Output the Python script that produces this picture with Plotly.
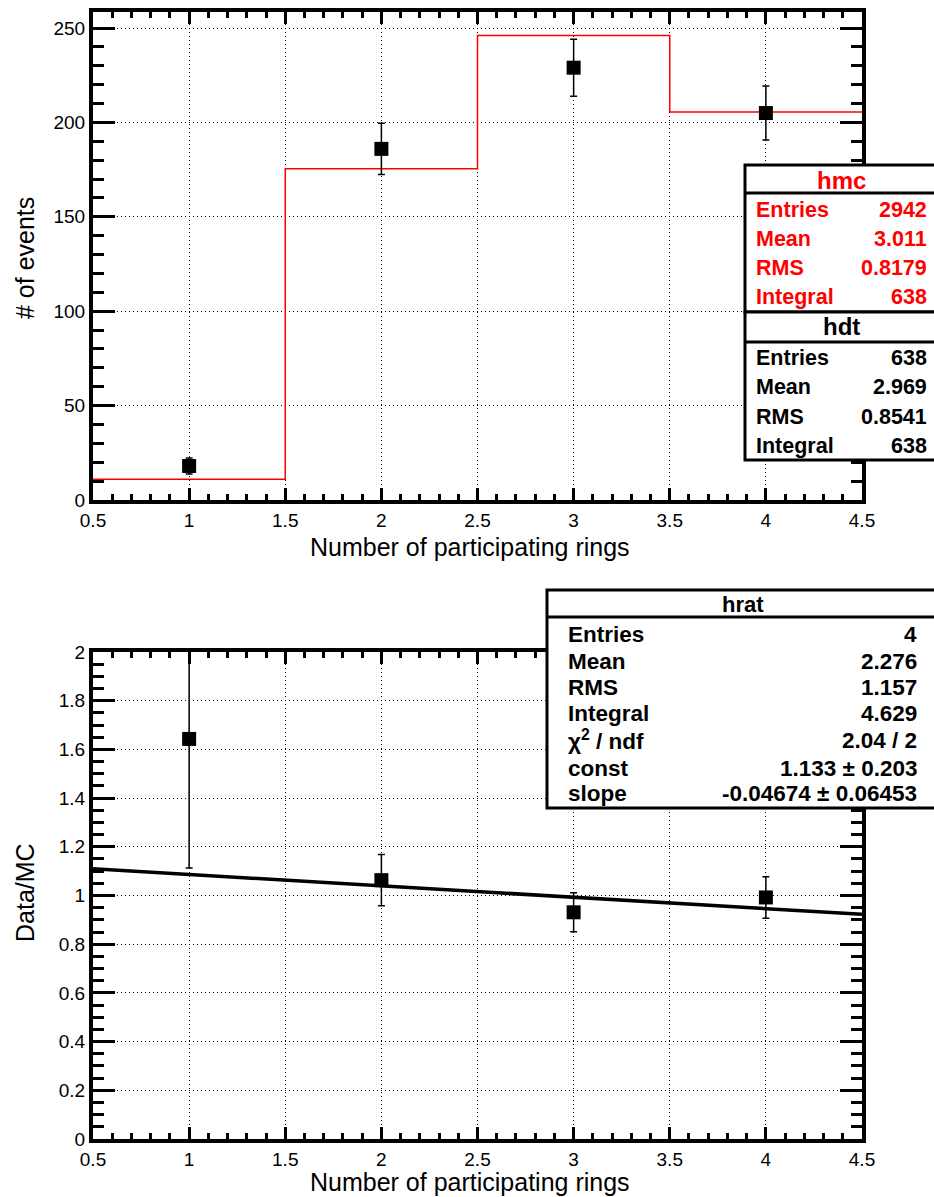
import plotly.graph_objects as go

# Histogram contents per number of participating rings
rings = [1, 2, 3, 4]
bin_edges = [0.5, 1.5, 2.5, 3.5, 4.5]
mc_counts = [11.0, 175.5, 246.0, 205.5]          # normalised MC (hmc)
data_counts = [18, 186, 229, 205]                # data (hdt)
data_errors = [4.2, 13.6, 15.1, 14.3]

# Data/MC ratio (hrat) with linear fit
ratio = [1.643, 1.063, 0.931, 0.992]
ratio_errors = [0.53, 0.105, 0.08, 0.085]
fit_const = 1.133
fit_slope = -0.04674

hmc_stats = [("Entries", "2942"), ("Mean", "3.011"), ("RMS", "0.8179"), ("Integral", "638")]
hdt_stats = [("Entries", "638"), ("Mean", "2.969"), ("RMS", "0.8541"), ("Integral", "638")]
hrat_stats = [("Entries", "4"), ("Mean", "2.276"), ("RMS", "1.157"), ("Integral", "4.629"),
              ("χ<sup>2</sup> / ndf", "2.04 / 2"), ("const", "1.133 ± 0.203"),
              ("slope", "-0.04674 ± 0.06453")]

W, H = 934, 1197
FONT = "Liberation Sans, Arial, Helvetica, sans-serif"


def px(x):
    return x / W


def py(y):
    return 1 - y / H


fig = go.Figure()

# MC histogram as a red step line
fig.add_trace(go.Scatter(
    x=bin_edges, y=mc_counts + [mc_counts[-1]], mode="lines",
    line=dict(color="red", width=1.5, shape="hv"),
    xaxis="x", yaxis="y", showlegend=False, hoverinfo="skip"))

# Data points
fig.add_trace(go.Scatter(
    x=rings, y=data_counts, mode="markers",
    marker=dict(symbol="square", size=14, color="black"),
    error_y=dict(type="data", array=data_errors, color="black", thickness=1.5, width=3.5),
    xaxis="x", yaxis="y", showlegend=False))

# Fit line in the ratio panel
fit_x = [bin_edges[0], bin_edges[-1]]
fit_y = [fit_const + fit_slope * v for v in fit_x]
fig.add_trace(go.Scatter(
    x=fit_x, y=fit_y, mode="lines", line=dict(color="black", width=3.5),
    xaxis="x2", yaxis="y2", showlegend=False))

# Ratio points
fig.add_trace(go.Scatter(
    x=rings, y=ratio, mode="markers",
    marker=dict(symbol="square", size=14, color="black"),
    error_y=dict(type="data", array=ratio_errors, color="black", thickness=1.5, width=3.5),
    xaxis="x2", yaxis="y2", showlegend=False, cliponaxis=True))

# Invisible traces so the top/right tick axes get drawn
for xa, ya, yv in (("x3", "y3", data_counts), ("x4", "y4", ratio)):
    fig.add_trace(go.Scatter(x=rings, y=yv, mode="markers", marker=dict(opacity=0),
                             xaxis=xa, yaxis=ya, showlegend=False, hoverinfo="skip"))

tickfont = dict(family=FONT, size=19, color="black")
XDOM = [px(93), px(862)]
TOP_DOM = [py(500), py(12)]
BOT_DOM = [py(1139), py(652)]


def xaxis_cfg(anchor, side="bottom", overlay=None, labels=True, grid=True):
    cfg = dict(
        domain=XDOM, anchor=anchor, range=[0.5, 4.5], side=side,
        tickmode="linear", tick0=0.5, dtick=0.5, ticks="inside", ticklen=12, tickwidth=3,
        tickcolor="black", showline=True, linecolor="black", linewidth=4, mirror=True,
        showgrid=grid, gridcolor="black", gridwidth=1, griddash="1px,3px", zeroline=False,
        minor=dict(dtick=0.1, ticks="inside", ticklen=6, tickwidth=3, tickcolor="black", showgrid=False),
        tickfont=tickfont, automargin=False, showticklabels=labels, fixedrange=True)
    if overlay:
        cfg["overlaying"] = overlay
    return cfg


def yaxis_cfg(anchor, dom, rng, dtick, mdtick, side="left", overlay=None, labels=True, grid=True):
    cfg = dict(
        domain=dom, anchor=anchor, range=rng, side=side,
        tickmode="linear", tick0=0, dtick=dtick, ticks="inside", ticklen=22, tickwidth=3,
        tickcolor="black", showline=True, linecolor="black", linewidth=4, mirror=True,
        showgrid=grid, gridcolor="black", gridwidth=1, griddash="1px,3px", zeroline=False,
        minor=dict(dtick=mdtick, ticks="inside", ticklen=11, tickwidth=3, tickcolor="black", showgrid=False),
        tickfont=tickfont, automargin=False, showticklabels=labels, fixedrange=True)
    if overlay:
        cfg["overlaying"] = overlay
    return cfg


shapes = []
annotations = []


def stat_box(x0, y0, ysep, y1, title, rows, row_ys, xl, xr, color, title_y, tsize, rsize):
    shapes.append(dict(type="rect", xref="paper", yref="paper", x0=px(x0), x1=px(W + 20),
                       y0=py(y1), y1=py(y0), fillcolor="white",
                       line=dict(color="black", width=3), layer="above"))
    shapes.append(dict(type="line", xref="paper", yref="paper", x0=px(x0), x1=px(W + 20),
                       y0=py(ysep), y1=py(ysep), line=dict(color="black", width=3), layer="above"))
    annotations.append(dict(xref="paper", yref="paper", x=px((x0 + W) / 2 + 2), y=py(title_y),
                            text=f"<b>{title}</b>", showarrow=False, xanchor="center", yanchor="middle",
                            font=dict(family=FONT, size=tsize, color=color)))
    for (lab, val), ry in zip(rows, row_ys):
        annotations.append(dict(xref="paper", yref="paper", x=px(xl), y=py(ry), text=f"<b>{lab}</b>",
                                showarrow=False, xanchor="left", yanchor="middle",
                                font=dict(family=FONT, size=rsize, color=color)))
        annotations.append(dict(xref="paper", yref="paper", x=px(xr), y=py(ry), text=f"<b>{val}</b>",
                                showarrow=False, xanchor="right", yanchor="middle",
                                font=dict(family=FONT, size=rsize, color=color)))


stat_box(745, 165, 193, 312, "hmc", hmc_stats, [210, 239, 268, 297], 754, 929, "red", 180, 24, 21.5)
stat_box(745, 312, 342, 460, "hdt", hdt_stats, [358, 387, 417, 446], 754, 929, "black", 327, 24, 21.5)
stat_box(547, 590, 617, 808, "hrat", hrat_stats, [634, 661, 687, 713, 740, 768, 793], 566, 919, "black",
         604, 22, 22.5)

# Axis titles
title_font = dict(family=FONT, size=25, color="black")
for ty in (547, 1182):
    annotations.append(dict(xref="paper", yref="paper", x=px(470), y=py(ty),
                            text="Number of participating rings", showarrow=False,
                            xanchor="center", yanchor="middle", font=title_font))
annotations.append(dict(xref="paper", yref="paper", x=px(25), y=py(258), text="# of events",
                        textangle=-90, showarrow=False, xanchor="center", yanchor="middle", font=title_font))
annotations.append(dict(xref="paper", yref="paper", x=px(25), y=py(893), text="Data/MC",
                        textangle=-90, showarrow=False, xanchor="center", yanchor="middle", font=title_font))

fig.update_layout(
    width=W, height=H, margin=dict(l=0, r=0, t=0, b=0),
    paper_bgcolor="white", plot_bgcolor="white",
    xaxis=xaxis_cfg("y"),
    yaxis=yaxis_cfg("x", TOP_DOM, [0, 258.5], 50, 10),
    xaxis2=xaxis_cfg("y2"),
    yaxis2=yaxis_cfg("x2", BOT_DOM, [0, 2], 0.2, 0.05),
    # tick marks on the opposite frame edges
    xaxis3=xaxis_cfg("y3", side="top", overlay="x", labels=False, grid=False),
    yaxis3=yaxis_cfg("x3", TOP_DOM, [0, 258.5], 50, 10, side="right", overlay="y", labels=False, grid=False),
    xaxis4=xaxis_cfg("y4", side="top", overlay="x2", labels=False, grid=False),
    yaxis4=yaxis_cfg("x4", BOT_DOM, [0, 2], 0.2, 0.05, side="right", overlay="y2", labels=False, grid=False),
    shapes=shapes, annotations=annotations, showlegend=False,
)

fig.write_html("out.html")
